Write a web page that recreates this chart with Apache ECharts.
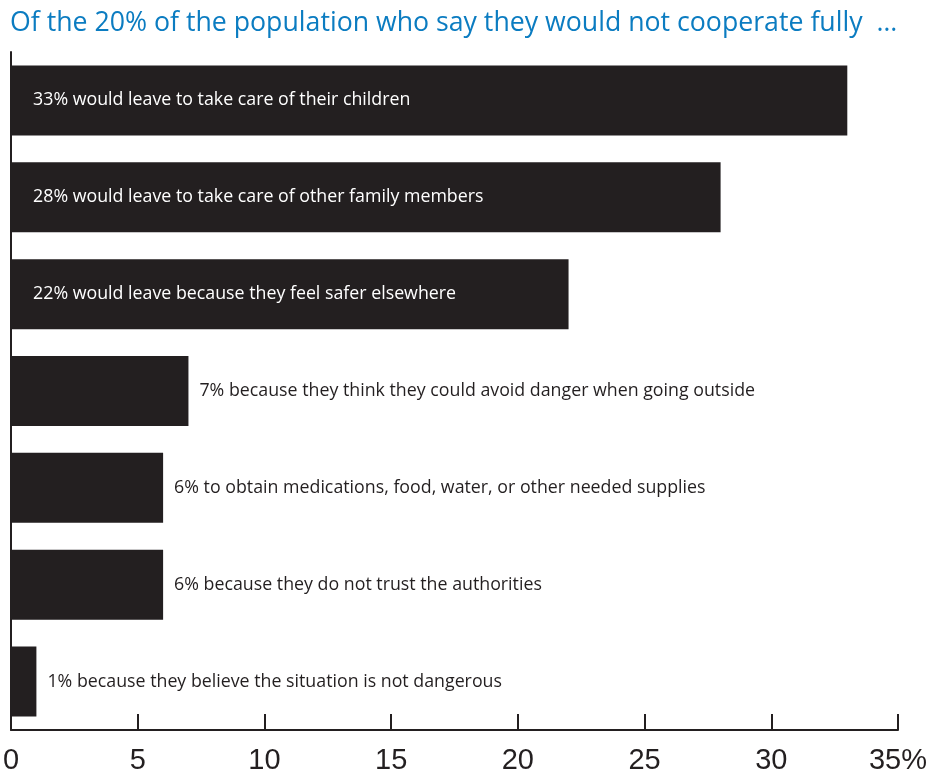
<!DOCTYPE html>
<html>
<head>
<meta charset="utf-8">
<script src="https://cdn.jsdelivr.net/npm/echarts@6/dist/echarts.min.js"></script>
<style>
  html, body { margin: 0; padding: 0; background: #ffffff; }
  #chart { width: 930px; height: 775px; }
</style>
</head>
<body>
<div id="chart"></div>
<script>
// Reasons given for not cooperating fully (share of that group, %)
const reasons = [
  'would leave to take care of their children',
  'would leave to take care of other family members',
  'would leave because they feel safer elsewhere',
  'because they think they could avoid danger when going outside',
  'to obtain medications, food, water, or other needed supplies',
  'because they do not trust the authorities',
  'because they believe the situation is not dangerous'
];
const shares = [33, 28, 22, 7, 6, 6, 1];
const axisTicks = [0, 5, 10, 15, 20, 25, 30, 35];

const titleText = 'Of the 20% of the population who say they would not cooperate fully  \u2026';
const ink = '#231f20';
const textFont = '"Open Sans", "Noto Sans", sans-serif';
const tickFont = '"Liberation Sans", Arial, sans-serif';

// Long bars carry their caption inside; short ones to the right of the bar
const insideMin = 15;

const chart = echarts.init(document.getElementById('chart'), null, { renderer: 'canvas' });

chart.setOption({
  animation: false,
  backgroundColor: '#ffffff',
  title: {
    text: titleText,
    left: 5,
    top: 5,
    textStyle: { color: '#0b7cc1', fontFamily: textFont, fontSize: 26.7, fontWeight: 'normal' }
  },
  grid: { left: 11, right: 31, top: 52, bottom: 45, containLabel: false },
  xAxis: {
    type: 'value',
    min: axisTicks[0],
    max: axisTicks[axisTicks.length - 1],
    interval: axisTicks[1] - axisTicks[0],
    splitLine: { show: false },
    axisLine: { show: true, lineStyle: { color: ink, width: 2 } },
    axisTick: { show: true, inside: true, length: 16, lineStyle: { color: ink, width: 2 } },
    axisLabel: {
      color: ink,
      fontFamily: tickFont,
      fontSize: 29,
      margin: 16,
      formatter: v => (v === axisTicks[axisTicks.length - 1] ? v + '%' : String(v))
    }
  },
  yAxis: {
    type: 'category',
    inverse: true,
    data: reasons,
    axisLine: { show: true, lineStyle: { color: ink, width: 2 } },
    axisTick: { show: false },
    axisLabel: { show: false }
  },
  series: [{
    type: 'bar',
    barWidth: 70,
    itemStyle: { color: ink },
    data: shares.map((v, i) => {
      const inside = v >= insideMin;
      return {
        value: v,
        label: {
          show: true,
          position: inside ? 'insideLeft' : 'right',
          distance: inside ? 22 : 11,
          color: inside ? '#ffffff' : ink,
          fontFamily: textFont,
          fontSize: 17.8,
          formatter: () => v + '% ' + reasons[i]
        }
      };
    })
  }]
});
</script>
</body>
</html>
